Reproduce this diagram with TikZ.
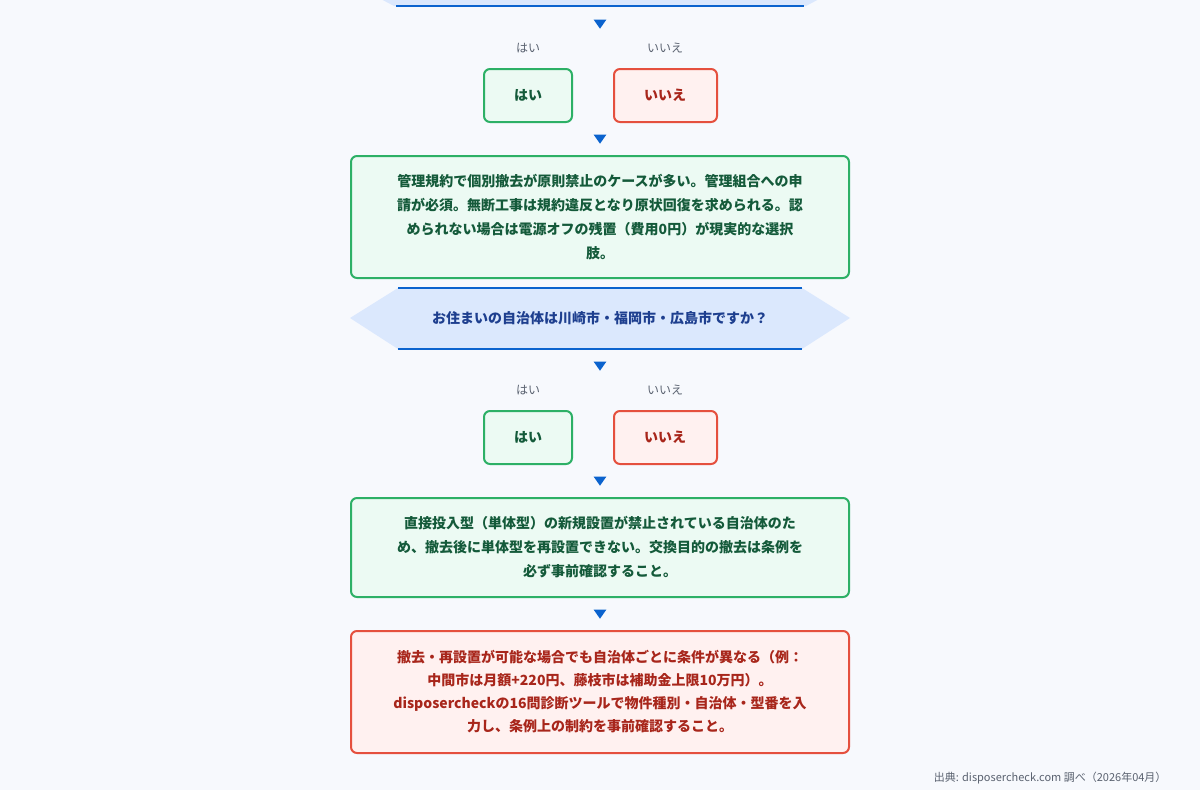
\documentclass[tikz,border=0pt]{standalone}
\usepackage{fontspec}
\setmainfont{Noto Sans CJK JP}
\usetikzlibrary{shapes.geometric}
\definecolor{bg}{HTML}{F7F9FD}
\definecolor{gB}{HTML}{2DB066}
\definecolor{gF}{HTML}{ECFAF3}
\definecolor{gT}{HTML}{145A3A}
\definecolor{rB}{HTML}{E5503E}
\definecolor{rF}{HTML}{FFF1F0}
\definecolor{rT}{HTML}{A8261B}
\definecolor{bB}{HTML}{0B63CE}
\definecolor{bF}{HTML}{DBE8FD}
\definecolor{bT}{HTML}{1E3F8F}
\definecolor{lab}{HTML}{5A6270}
\begin{document}
\begin{tikzpicture}[x=1pt,y=-1pt,
  gbox/.style={draw=gB,fill=gF,line width=2pt,rounded corners=6pt},
  rbox/.style={draw=rB,fill=rF,line width=2pt,rounded corners=6pt},
  gtxt/.style={text=gT,font=\bfseries\fontsize{14}{24}\selectfont,align=center},
  rtxt/.style={text=rT,font=\bfseries\fontsize{14}{23}\selectfont,align=center},
  lbl/.style={text=lab,font=\fontsize{12}{13}\selectfont},
  tri/.style={fill=bB,inner sep=0pt,minimum width=11pt,minimum height=9pt,isosceles triangle,shape border rotate=-90,isosceles triangle apex angle=70}]
\fill[bg] (0,0) rectangle (1200,790);
\useasboundingbox (0,0) rectangle (1200,790);
% top partial hexagon
\fill[bF] (345,-20) -- (855,-20) -- (806,6) -- (394,6) -- cycle;
\draw[bB,line width=2pt] (396,6) -- (804,6);
\node[tri] (a1) at (600,23) {};
\node[lbl] (l1) at (528,48) {はい};
\node[lbl] (l2) at (665,48) {いいえ};
\draw[gbox] (484,69) rectangle (572,122);
\node[gtxt] (y1) at (528,95) {はい};
\draw[rbox] (614,69) rectangle (717,122);
\node[rtxt] (n1) at (665,95) {いいえ};
\node[tri] (a2) at (600,138) {};
\draw[gbox] (351,156) rectangle (849,278);
\node[gtxt] (t1) at (600,217) {管理規約で個別撤去が原則禁止のケースが多い。管理組合への申\\請が必須。無断工事は規約違反となり原状回復を求められる。認\\められない場合は電源オフの残置（費用0円）が現実的な選択\\肢。};
% hexagon
\fill[bF] (350,318) -- (398,288) -- (802,288) -- (850,318) -- (802,349) -- (398,349) -- cycle;
\draw[bB,line width=2pt] (398,288) -- (802,288);
\draw[bB,line width=2pt] (398,349) -- (802,349);
\node[text=bT,font=\bfseries\fontsize{14}{16}\selectfont] (q) at (600,318) {お住まいの自治体は川崎市・福岡市・広島市ですか？};
\node[tri] (a3) at (600,365) {};
\node[lbl] (l3) at (528,390) {はい};
\node[lbl] (l4) at (665,390) {いいえ};
\draw[gbox] (484,411) rectangle (572,464);
\node[gtxt] (y2) at (528,437) {はい};
\draw[rbox] (614,411) rectangle (717,464);
\node[rtxt] (n2) at (665,437) {いいえ};
\node[tri] (a4) at (600,480) {};
\draw[gbox] (351,498) rectangle (849,597);
\node[gtxt] (t2) at (600,547) {直接投入型（単体型）の新規設置が禁止されている自治体のた\\め、撤去後に単体型を再設置できない。交換目的の撤去は条例を\\必ず事前確認すること。};
\node[tri] (a5) at (600,613) {};
\draw[rbox] (351,631) rectangle (849,753);
\node[rtxt] (t3) at (600,692) {撤去・再設置が可能な場合でも自治体ごとに条件が異なる（例：\\中間市は月額+220円、藤枝市は補助金上限10万円）。\\disposercheckの16問診断ツールで物件種別・自治体・型番を入\\力し、条例上の制約を事前確認すること。};
\node[lbl,anchor=east,font=\fontsize{11}{12}\selectfont] (src) at (1170,778) {出典: disposercheck.com 調べ（2026年04月）};
\end{tikzpicture}
\end{document}
